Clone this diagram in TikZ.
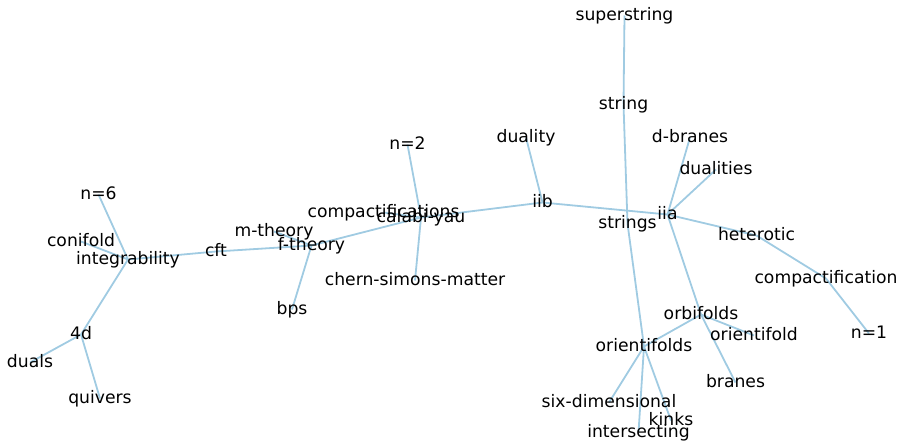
\documentclass[tikz,border=0pt]{standalone}
\usepackage{fontspec}
\setmainfont{DejaVu Sans}
\usetikzlibrary{backgrounds}
\definecolor{edgeblue}{RGB}{160,203,226}
\tikzset{
  term/.style={inner sep=0pt, text height=13pt, text depth=4pt, anchor=center,
               font=\fontsize{17.2}{20}\selectfont, text=black},
  link/.style={draw=edgeblue, line width=1.8pt}
}
\begin{document}
\begin{tikzpicture}[x=1pt, y=-1pt]
\useasboundingbox (0,0) rectangle (902,442);
% terms, placed by label centre (baseline minus 4.5)
\node[term] (n6)    at (98.5,194.5) {n=6};
\node[term] (conif) at (81,241.5) {conifold};
\node[term] (integ) at (128,259.5) {integrability};
\node[term] (fourd) at (81,334.5) {4d};
\node[term] (duals) at (30,362.5) {duals};
\node[term] (quiv)  at (100,398.5) {quivers};
\node[term] (cft)   at (216,251.5) {cft};
\node[term] (mth)   at (274,231.5) {m-theory};
\node[term] (fth)   at (311.5,245.5) {f-theory};
\node[term] (bps)   at (292,309.5) {bps};
\node[term] (comps) at (383.5,212.5) {compactifications};
\node[term] (cy)    at (421,217.5) {calabi-yau};
\node[term] (n2)    at (407.5,144.5) {n=2};
\node[term] (csm)   at (415,280.5) {chern-simons-matter};
\node[term] (dual)  at (526,137.5) {duality};
\node[term] (iib)   at (542.5,202.5) {iib};
\node[term] (sstr)  at (624.5,15.5) {superstring};
\node[term] (str)   at (623.5,104.5) {string};
\node[term] (strs)  at (627.5,223.5) {strings};
\node[term] (iia)   at (667.5,214.5) {iia};
\node[term] (dbr)   at (690,137.5) {d-branes};
\node[term] (duals2) at (716,169.5) {dualities};
\node[term] (het)   at (756.5,235.5) {heterotic};
\node[term] (compn) at (826,278.5) {compactification};
\node[term] (n1)    at (869,333.5) {n=1};
\node[term] (orbf)  at (701,314.5) {orbifolds};
\node[term] (orif)  at (754,335.5) {orientifold};
\node[term] (orifs) at (644,346.5) {orientifolds};
\node[term] (bran)  at (735.5,382.5) {branes};
\node[term] (sixd)  at (609,402.5) {six-dimensional};
\node[term] (kinks) at (671,420.5) {kinks};
\node[term] (inter) at (638.5,432.5) {intersecting};
% connectors, drawn behind the labels
\begin{scope}[on background layer]
\foreach \a/\b in {n6/integ, conif/integ, integ/fourd, integ/cft,
    fourd/duals, fourd/quiv, cft/fth, mth/fth, fth/bps, fth/cy,
    comps/cy, n2/cy, cy/csm, cy/iib, dual/iib, iib/iia,
    sstr/str, str/strs, strs/orifs, iia/dbr, iia/duals2, iia/het,
    het/compn, compn/n1, iia/orbf, orbf/bran, orbf/orif, orbf/orifs,
    orifs/sixd, orifs/inter, orifs/kinks}
  \draw[link] (\a.center) -- (\b.center);
\end{scope}
\end{tikzpicture}
\end{document}
